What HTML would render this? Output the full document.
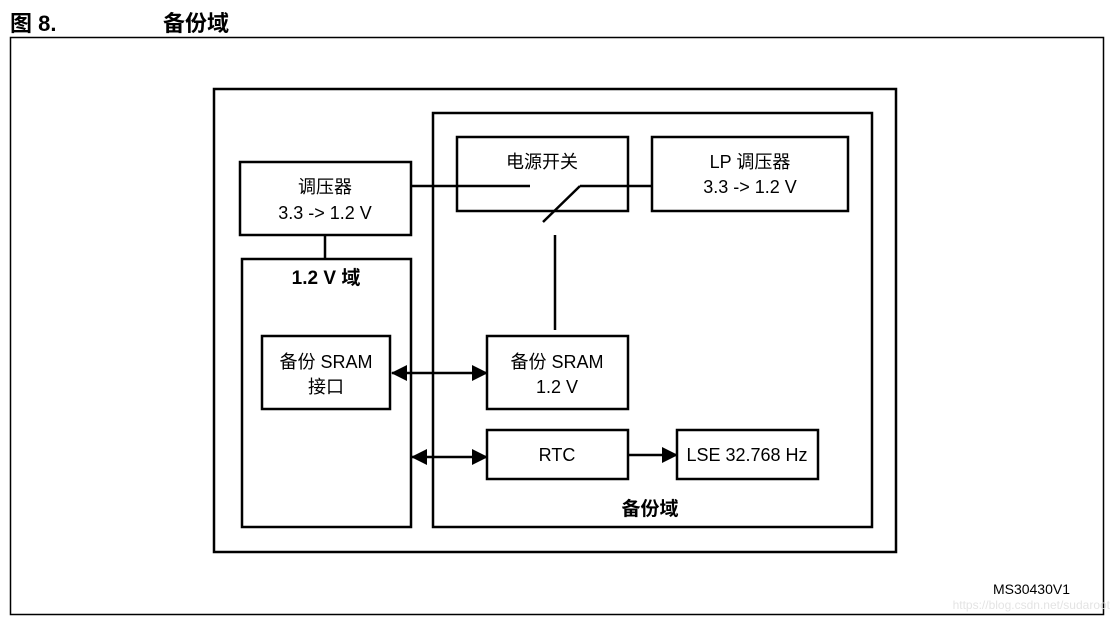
<!DOCTYPE html>
<html><head><meta charset="utf-8"><style>
body{margin:0;width:1117px;height:622px;background:#fff;overflow:hidden}
svg text{font-family:"Liberation Sans","Noto Sans CJK SC",sans-serif;fill:#000}
</style></head><body>
<svg width="1117" height="622" xmlns="http://www.w3.org/2000/svg">
<defs>
<marker id="b" markerWidth="16" markerHeight="16" refX="15" refY="8" orient="auto-start-reverse" markerUnits="userSpaceOnUse"><path d="M0,0 L16,8 L0,16 z" fill="#000"/></marker></defs>
<text x="10" y="31" font-size="22" font-weight="bold">图 8.</text>
<text x="163" y="31" font-size="22" font-weight="bold">备份域</text>
<rect x="10.5" y="37.5" width="1093" height="577" fill="none" stroke="#000" stroke-width="1.5"/>
<g fill="none" stroke="#000" stroke-width="2.5">
<rect x="214" y="89" width="682" height="463"/>
<rect x="433" y="113" width="439" height="414"/>
<rect x="457" y="137" width="171" height="74"/>
<rect x="652" y="137" width="196" height="74"/>
<rect x="240" y="162" width="171" height="73"/>
<rect x="242" y="259" width="169" height="268"/>
<rect x="262" y="336" width="128" height="73"/>
<rect x="487" y="336" width="141" height="73"/>
<rect x="487" y="430" width="141" height="49"/>
<rect x="677" y="430" width="141" height="49"/>
<path d="M411,186 H530 M580,186 H652 M543,222 L580,186 M555,235 V330 M325,235 V259"/>
<path d="M392,373 H487" marker-start="url(#b)" marker-end="url(#b)"/>
<path d="M412,457 H487" marker-start="url(#b)" marker-end="url(#b)"/>
<path d="M628,455 H677" marker-end="url(#b)"/>
</g>
<g font-size="18" text-anchor="middle">
<text x="325" y="193">调压器</text><text x="325" y="219">3.3 -&gt; 1.2 V</text>
<text x="542" y="168">电源开关</text>
<text x="750" y="168">LP 调压器</text><text x="750" y="193">3.3 -&gt; 1.2 V</text>
<text x="326" y="284" font-weight="bold" font-size="19">1.2 V 域</text>
<text x="326" y="368">备份 SRAM</text><text x="326" y="393">接口</text>
<text x="557" y="368">备份 SRAM</text><text x="557" y="393">1.2 V</text>
<text x="557" y="461">RTC</text>
<text x="747" y="461">LSE 32.768 Hz</text>
<text x="650" y="515" font-weight="bold" font-size="19">备份域</text>
</g>
<text x="1070" y="594" font-size="14" text-anchor="end">MS30430V1</text>
<text x="1110" y="609" font-size="12" text-anchor="end" style="fill:#e4e4e4">https://blog.csdn.net/sudaroot</text>
</svg>
</body></html>
